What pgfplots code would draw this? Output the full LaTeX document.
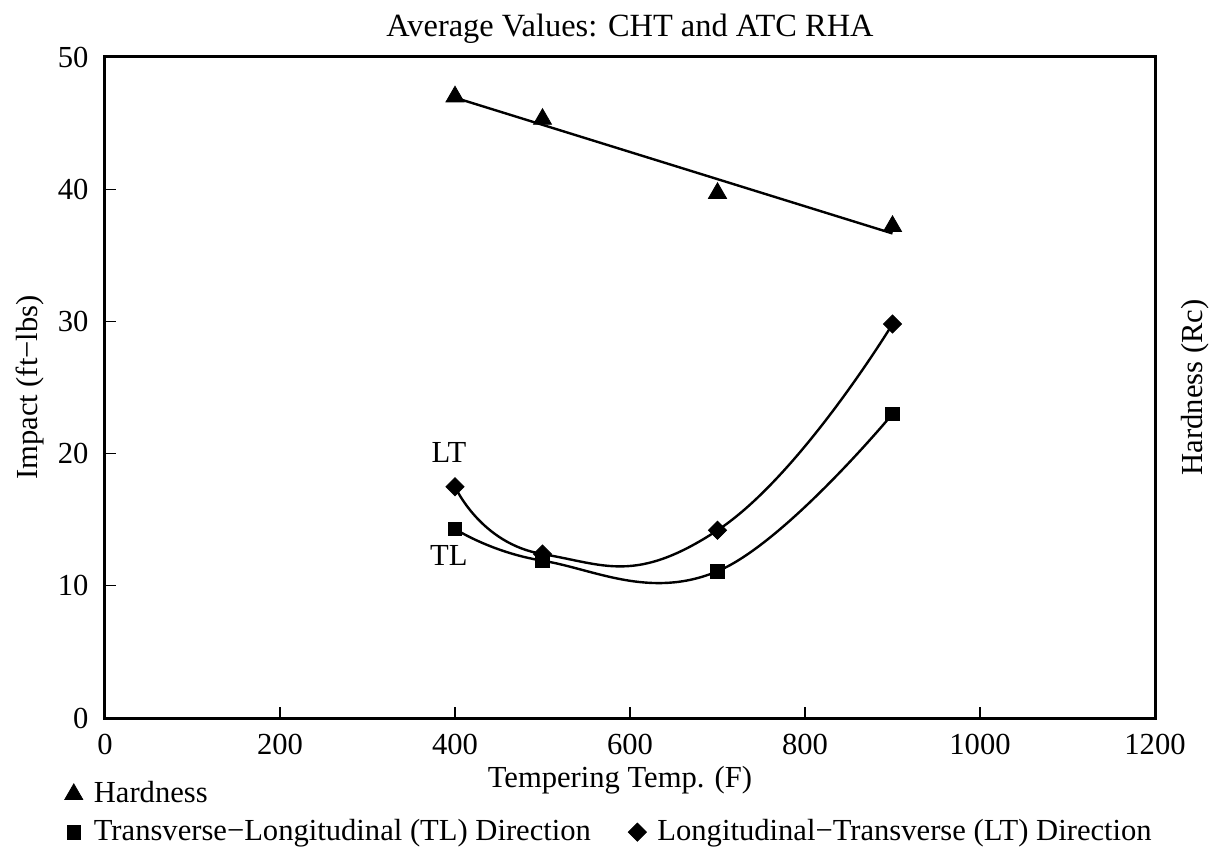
\documentclass[border=0pt]{standalone}
\usepackage{fontspec}
\setmainfont{Liberation Serif}
\usepackage{pgfplots}
\usepackage{pgfplotstable}
\pgfplotsset{compat=1.18}

% tempering temperature (F) vs. hardness (Rc) and impact (ft-lbs)
\pgfplotstableread{
temp hard
400 47.0
500 45.3
700 39.7
900 37.2
}\hardness
\pgfplotstableread{
temp tl
400 14.3
500 11.9
700 11.1
900 23.0
}\tldata
\pgfplotstableread{
temp lt
400 17.5
500 12.4
700 14.2
900 29.8
}\ltdata

\begin{document}
\fontsize{15.3}{17}\selectfont
\begin{tikzpicture}
\path[use as bounding box] (-52.5pt,-69pt) rectangle (554.5pt,359pt);
\begin{axis}[
  scale only axis,
  width=525pt, height=330.5pt,
  xmin=0, xmax=1200, ymin=0, ymax=50,
  xtick={0,200,...,1200}, ytick={0,10,...,50},
  tick pos=left, tick align=inside,
  major tick length=5.5pt,
  axis line style={line width=1.5pt},
  every tick/.style={black, line width=0.6pt},
  /pgf/number format/assume math mode=true,
  /pgf/number format/1000 sep={},
  xticklabel style={yshift=-3pt},
  yticklabel style={xshift=-3pt},
  title={Average Values: CHT and ATC RHA},
  title style={at={(axis description cs:0.5,1)}, anchor=center, yshift=8pt,
    font=\fontsize{16.2}{18}\selectfont},
  xlabel={Tempering Temp. (F)},
  xlabel style={at={(axis description cs:0.5,0)}, anchor=center, yshift=-31pt, xshift=-5pt},
  ylabel={Impact (ft−lbs)},
  ylabel style={at={(axis description cs:-0.071,0.5)}, anchor=center},
  legend columns=2,
  legend cell align=left,
  legend image code/.code={
    \draw[#1] plot coordinates {(0cm,0cm)};
    \path[draw=none, fill=none] (-0.2cm,-0.1cm) rectangle (0.3cm,0.1cm);
  },
  legend style={draw=none, fill=none, at={(axis description cs:0,0)}, anchor=north west,
    xshift=-21.5pt, yshift=-30pt, inner sep=0pt, row sep=3pt,
    nodes={inner sep=1.5pt},
    /tikz/every even column/.append style={column sep=16pt}},
  clip=false,
]
% fitted lines
\addplot[black, no marks, line width=1.2pt, forget plot]
  table[x=temp, y={create col/linear regression={y=hard}}] {\hardness};
\addplot[black, no marks, smooth, tension=0.7, line width=1.2pt, forget plot] table[x=temp, y=tl] {\tldata};
\addplot[black, no marks, smooth, tension=0.85, line width=1.2pt, forget plot] table[x=temp, y=lt] {\ltdata};

% measured points
\addplot[black, only marks, mark=triangle*, mark size=5.2pt] table[x=temp, y=hard] {\hardness};
\addlegendentry{Hardness}
\addlegendimage{empty legend}
\addlegendentry{}
\addplot[black, only marks, mark=square*, mark size=3.4pt] table[x=temp, y=tl] {\tldata};
\addlegendentry{Transverse−Longitudinal (TL) Direction}
\addplot[black, only marks, mark=square*, mark size=3.2pt, mark options={rotate=45}] table[x=temp, y=lt] {\ltdata};
\addlegendentry{Longitudinal−Transverse (LT) Direction}

\node at (axis cs:393,20.1) {LT};
\node at (axis cs:393,12.3) {TL};
\node[rotate=90, anchor=center] at (axis description cs:1.038,0.5) {Hardness (Rc)};
\end{axis}
\end{tikzpicture}
\end{document}
